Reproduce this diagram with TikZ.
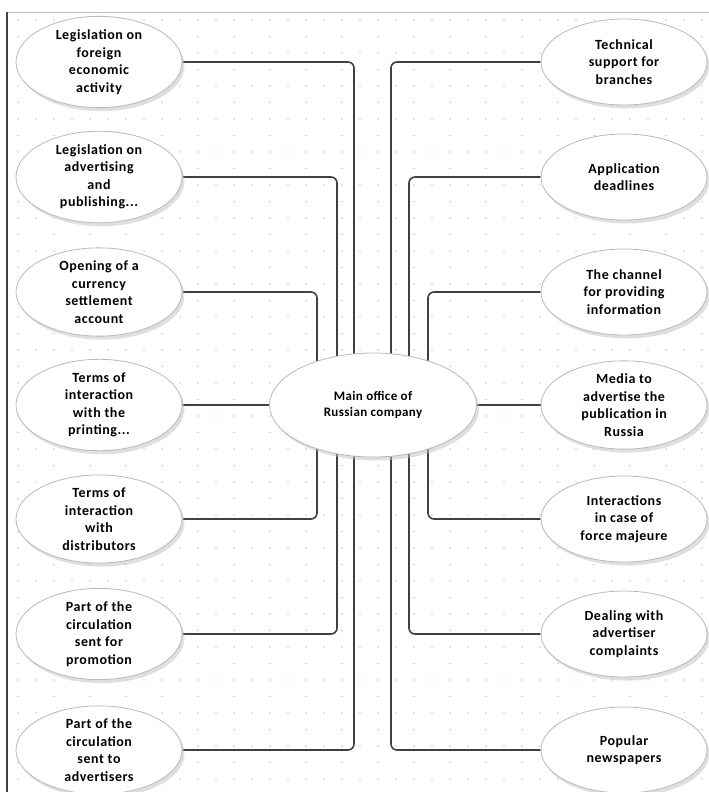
\documentclass[tikz,border=0pt]{standalone}
\usepackage{fontspec}
\setmainfont{Carlito}
\usetikzlibrary{shapes.geometric,shadows,backgrounds}

\begin{document}
\begin{tikzpicture}[
    x=1pt, y=-1pt,
    topic/.style={ellipse, draw=gray!55, fill=white, line width=0.8pt,
                  drop shadow={shadow xshift=2.5pt, shadow yshift=-3.5pt, fill=gray!50},
                  minimum width=166pt, minimum height=86pt, inner sep=0pt,
                  text centered, align=center,
                  font=\fontsize{14}{17.5}\selectfont\bfseries\addfontfeature{LetterSpace=4}},
    hub/.style={topic, minimum width=207pt, minimum height=104pt,
                font=\fontsize{13}{16}\selectfont\bfseries\addfontfeature{LetterSpace=3}},
    link/.style={draw=black!75, line width=1.6pt, rounded corners=6pt},
    griddot/.style={fill=gray!45}
]
\useasboundingbox (0,0) rectangle (709,792);

% Frame
\draw[gray!50, line width=0.6pt] (7,12) -- (709,12);
\draw[black!75, line width=1.5pt] (7,12) -- (7,792);

% Centre
\node[hub] (main) at (373,405) {Main office of\\Russian company};

% Left column
\node[topic] (l1) at (99,62) {Legislation on\\foreign\\economic\\activity};
\node[topic] (l2) at (99,177) {Legislation on\\advertising\\and\\publishing...};
\node[topic] (l3) at (99,292) {Opening of a\\currency\\settlement\\account};
\node[topic] (l4) at (99,405) {Terms of\\interaction\\with the\\printing...};
\node[topic] (l5) at (99,519) {Terms of\\interaction\\with\\distributors};
\node[topic] (l6) at (99,634) {Part of the\\circulation\\sent for\\promotion};
\node[topic] (l7) at (99,750) {Part of the\\circulation\\sent to\\advertisers};

% Right column
\node[topic] (r1) at (624,62) {Technical\\support for\\branches};
\node[topic] (r2) at (624,177) {Application\\deadlines};
\node[topic] (r3) at (624,292) {The channel\\for providing\\information};
\node[topic] (r4) at (624,405) {Media to\\advertise the\\publication in\\Russia};
\node[topic] (r5) at (624,519) {Interactions\\in case of\\force majeure};
\node[topic] (r6) at (624,634) {Dealing with\\advertiser\\complaints};
\node[topic] (r7) at (624,750) {Popular\\newspapers};

\begin{pgfonlayer}{background}
% Dotted paper
\foreach \j in {0,...,47} {
  \pgfmathsetmacro{\yy}{20+16.5*\j}
  \ifodd\j
    \foreach \xx in {18,54,...,709} \fill[griddot] (\xx,\yy) circle (0.8pt);
  \else
    \foreach \xx in {18,36,...,709} \fill[griddot] (\xx,\yy) circle (0.8pt);
  \fi
}

% Connectors, left
\draw[link] (l1.east) -| ([xshift=-19pt]main.center);
\draw[link] (l2.east) -| ([xshift=-36pt]main.center);
\draw[link] (l3.east) -| ([xshift=-56pt]main.center);
\draw[link] (l4.east) -- (main.west);
\draw[link] (l5.east) -| ([xshift=-56pt]main.center);
\draw[link] (l6.east) -| ([xshift=-36pt]main.center);
\draw[link] (l7.east) -| ([xshift=-19pt]main.center);

% Connectors, right
\draw[link] (r1.west) -| ([xshift=18pt]main.center);
\draw[link] (r2.west) -| ([xshift=36pt]main.center);
\draw[link] (r3.west) -| ([xshift=55pt]main.center);
\draw[link] (r4.west) -- (main.east);
\draw[link] (r5.west) -| ([xshift=55pt]main.center);
\draw[link] (r6.west) -| ([xshift=36pt]main.center);
\draw[link] (r7.west) -| ([xshift=18pt]main.center);
\end{pgfonlayer}

\end{tikzpicture}
\end{document}
